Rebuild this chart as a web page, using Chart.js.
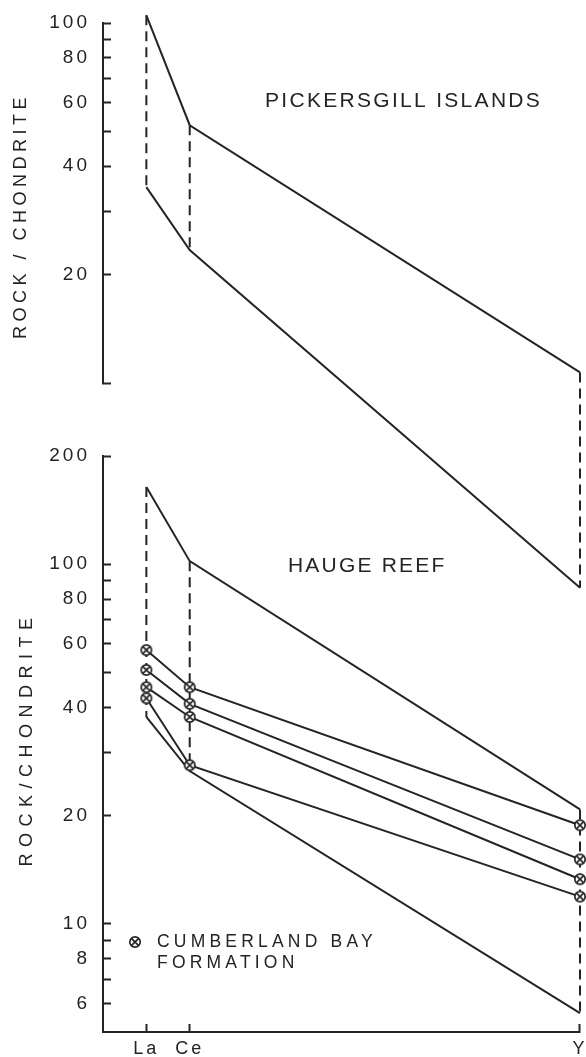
<!DOCTYPE html>
<html>
<head>
<meta charset="utf-8">
<script src="https://cdn.jsdelivr.net/npm/chart.js@4.4.1/dist/chart.umd.min.js"></script>
<style>
html, body { margin: 0; padding: 0; background: #fff; overflow: hidden; }
#wrap { position: relative; width: 586px; height: 1057px; overflow: hidden; }
canvas { position: absolute; left: 0; }
#topChart { top: -20px; }
#bottomChart { top: 400px; }
</style>
</head>
<body>
<div id="wrap">
  <canvas id="topChart" width="600" height="620"></canvas>
  <canvas id="bottomChart" width="600" height="667"></canvas>
</div>
<script>
// rock / chondrite values
const elements = ['La', 'Ce', 'Y'];
const elementPos = [57, 58, 67];   // Y is plotted at the Ho position

const pickersgillUpper = [105, 52, 10.7];
const pickersgillLower = [35, 23.4, 2.7];

const haugeUpper = [164, 102, 20.8];
const haugeLower = [37.6, 26.6, 5.64];

// Cumberland Bay Formation samples
const cumberland1 = [57.7, 45.5, 18.8];
const cumberland2 = [50.8, 40.9, 15.1];
const cumberland3 = [45.5, 37.6, 13.3];
const cumberland4 = [42.4, 27.6, 11.9];

const topTicks = [10, 20, 30, 40, 50, 60, 70, 80, 90, 100];
const topTickLabels = [20, 40, 60, 80, 100];
const bottomTicks = [6, 7, 8, 9, 10, 20, 30, 40, 50, 60, 70, 80, 90, 100, 200];
const bottomTickLabels = [6, 8, 10, 20, 40, 60, 80, 100, 200];

const INK = '#242424';
const FONT = '"Liberation Sans", Arial, Helvetica, sans-serif';

// circle with a cross inside, used as point style
function makeMarker() {
    const c = document.createElement('canvas');
    c.width = 14;
    c.height = 14;
    const g = c.getContext('2d');
    const r = 5.2, d = r * Math.SQRT1_2;
    g.fillStyle = '#fff';
    g.strokeStyle = INK;
    g.lineWidth = 1.7;
    g.beginPath();
    g.arc(7, 7, r, 0, Math.PI * 2);
    g.fill();
    g.stroke();
    g.beginPath();
    g.moveTo(7 - d, 7 - d); g.lineTo(7 + d, 7 + d);
    g.moveTo(7 + d, 7 - d); g.lineTo(7 - d, 7 + d);
    g.stroke();
    return c;
}
const marker = makeMarker();

function points(values) {
    return values.map((v, i) => ({ x: elementPos[i], y: v }));
}

function line(values, extra) {
    return Object.assign({
        data: points(values),
        borderColor: INK,
        borderWidth: 2,
        pointRadius: 0,
        tension: 0,
        clip: false,
        order: 1
    }, extra || {});
}

// dashed verticals joining the two envelopes at each element
function tieLines(upper, lower) {
    return elementPos.map((x, i) => ({
        data: [{ x: x, y: upper[i] }, { x: x, y: lower[i] }],
        borderColor: INK,
        borderWidth: 2,
        borderDash: [10, 6],
        pointRadius: 0,
        clip: false,
        order: 2
    }));
}

function sample(values) {
    return line(values, {
        pointStyle: marker,
        pointRadius: 5,
        order: 0
    });
}

function yAxis(min, max, ticks, labels) {
    return {
        type: 'logarithmic',
        min: min,
        max: max,
        afterFit(scale) { scale.width = 103; },
        afterBuildTicks(scale) { scale.ticks = ticks.map(v => ({ value: v })); },
        ticks: {
            autoSkip: false,
            padding: 21,
            color: INK,
            font: { family: FONT, size: 19 },
            callback: v => labels.includes(v) ? String(v) : ''
        },
        grid: { drawOnChartArea: false, tickLength: -8, tickWidth: 2, tickColor: INK },
        border: { color: INK, width: 2 }
    };
}

const spacing = {
    id: 'spacing',
    beforeDraw(chart) { chart.ctx.letterSpacing = '3px'; },
    afterDraw(chart) { chart.ctx.letterSpacing = '0px'; }
};

function labelPlugin(offsetY, items) {
    return {
        id: 'panelLabels',
        afterDraw(chart) {
            const ctx = chart.ctx;
            items.forEach(it => {
                ctx.save();
                ctx.translate(it.x, it.y - offsetY);
                if (it.marker) {
                    ctx.drawImage(marker, -marker.width / 2, -marker.height / 2);
                    ctx.restore();
                    return;
                }
                ctx.font = it.size + 'px ' + FONT;
                ctx.letterSpacing = it.spacing + 'px';
                ctx.fillStyle = INK;
                if (it.rotate) {
                    ctx.rotate(-Math.PI / 2);
                    ctx.textAlign = 'center';
                    ctx.textBaseline = 'middle';
                } else {
                    ctx.textAlign = 'left';
                    ctx.textBaseline = 'alphabetic';
                }
                ctx.fillText(it.text, 0, 0);
                ctx.restore();
            });
        }
    };
}

const common = {
    responsive: false,
    animation: false,
    events: [],
    plugins: { legend: { display: false }, tooltip: { enabled: false } }
};

new Chart(document.getElementById('topChart'), {
    type: 'line',
    data: {
        datasets: [
            line(pickersgillUpper),
            line(pickersgillLower)
        ].concat(tieLines(pickersgillUpper, pickersgillLower))
    },
    options: Object.assign({}, common, {
        layout: { padding: { top: 43, right: 20, bottom: 217, left: 0 } },
        scales: {
            x: { type: 'linear', display: false, min: 56, max: 67 },
            y: yAxis(10, 100, topTicks, topTickLabels)
        }
    }),
    plugins: [spacing, labelPlugin(-20, [
        { text: 'PICKERSGILL ISLANDS', x: 265, y: 107, size: 21, spacing: 2.3 },
        { text: 'ROCK / CHONDRITE', x: 21.5, y: 216, size: 18, spacing: 4.5, rotate: true }
    ])]
});

new Chart(document.getElementById('bottomChart'), {
    type: 'line',
    data: {
        datasets: [
            sample(cumberland1),
            sample(cumberland2),
            sample(cumberland3),
            sample(cumberland4),
            line(haugeUpper),
            line(haugeLower)
        ].concat(tieLines(haugeUpper, haugeLower))
    },
    options: Object.assign({}, common, {
        layout: { padding: { top: 56, right: 20, bottom: 0, left: 0 } },
        scales: {
            x: {
                type: 'linear',
                min: 56,
                max: 67,
                afterFit(scale) { scale.height = 35; },
                afterBuildTicks(scale) { scale.ticks = elementPos.map(v => ({ value: v })); },
                ticks: {
                    autoSkip: false,
                    maxRotation: 0,
                    padding: 14,
                    color: INK,
                    font: { family: FONT, size: 18 },
                    callback: v => elements[elementPos.indexOf(v)]
                },
                grid: { drawOnChartArea: false, tickLength: -8, tickWidth: 2, tickColor: INK },
                border: { color: INK, width: 2 }
            },
            y: yAxis(5, 200, bottomTicks, bottomTickLabels)
        }
    }),
    plugins: [spacing, labelPlugin(400, [
        { text: 'HAUGE REEF', x: 288, y: 572, size: 21, spacing: 2.2 },
        { text: 'ROCK/CHONDRITE', x: 27.5, y: 739, size: 18, spacing: 6.5, rotate: true },
        { marker: true, x: 135, y: 942 },
        { text: 'CUMBERLAND BAY', x: 157, y: 947, size: 17.5, spacing: 4.2 },
        { text: 'FORMATION', x: 157, y: 968, size: 17.5, spacing: 4.2 }
    ])]
});
</script>
</body>
</html>
